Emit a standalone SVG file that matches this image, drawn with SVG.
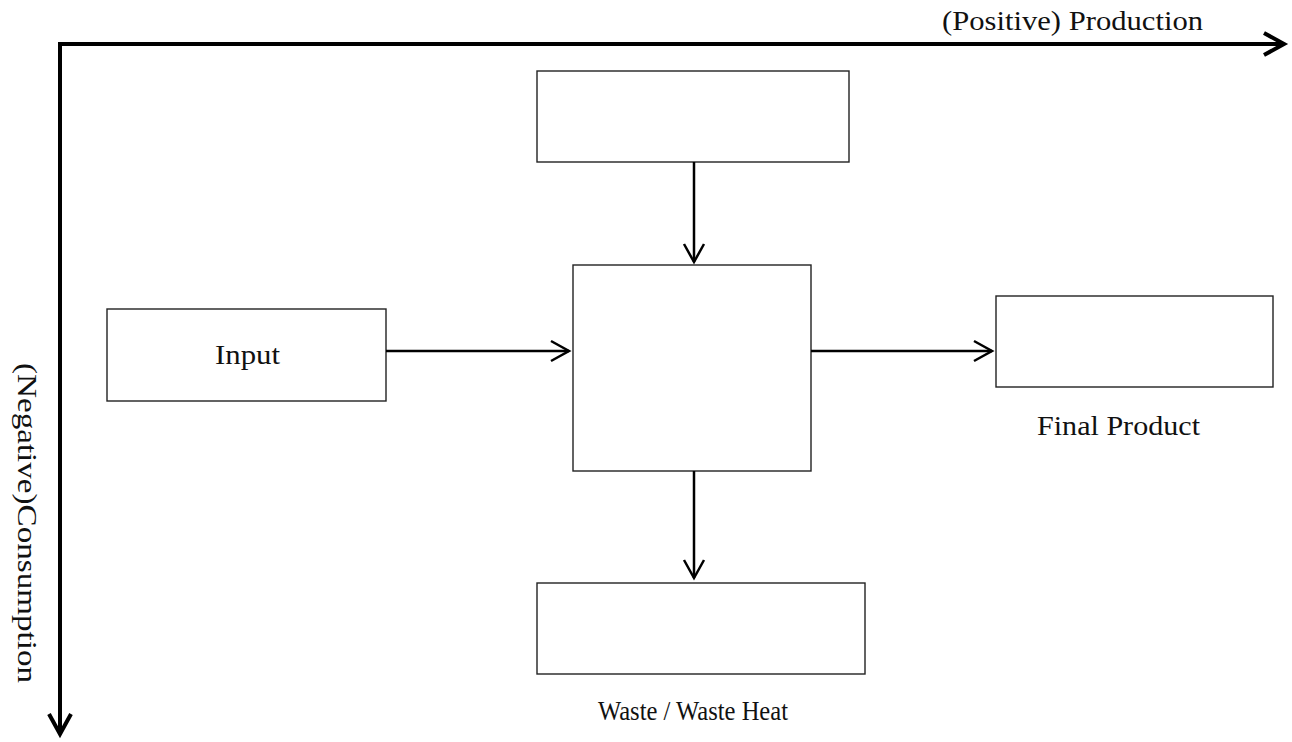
<svg xmlns="http://www.w3.org/2000/svg" width="1292" height="742" viewBox="0 0 1292 742">
<style>
.box{fill:#fff;stroke:#222;stroke-width:1.4}
.conn{fill:none;stroke:#000;stroke-width:2.5}
.axis{fill:none;stroke:#000;stroke-width:4}
.lbl{font-family:"Liberation Serif","DejaVu Serif",serif;font-size:28px;fill:#111}
</style>
<defs>
<marker id="chev" markerUnits="userSpaceOnUse" viewBox="-20 -12 22 24" refX="0" refY="0" markerWidth="22" markerHeight="24" orient="auto" overflow="visible">
<path d="M-18,-10 L0,0 L-18,10" fill="none" stroke="#000" stroke-width="2.5"/>
</marker>
<marker id="chevBig" markerUnits="userSpaceOnUse" viewBox="-24 -14 26 28" refX="0" refY="0" markerWidth="26" markerHeight="28" orient="auto" overflow="visible">
<path d="M-20,-11 L0,0 L-20,11" fill="none" stroke="#000" stroke-width="4"/>
</marker>
</defs>
<rect width="1292" height="742" fill="#fff"/>
<g id="axes">
<path class="axis" d="M60,44 L1284,44" marker-end="url(#chevBig)"/>
<path class="axis" d="M60,42 L60,734" marker-end="url(#chevBig)"/>
<text class="lbl" x="942" y="30" textLength="261" lengthAdjust="spacingAndGlyphs">(Positive) Production</text>
<text class="lbl" transform="translate(18,363) rotate(90)" x="0" y="0" textLength="320" lengthAdjust="spacingAndGlyphs">(Negative)Consumption</text>
</g>
<g id="node-top"><rect class="box" x="537" y="71" width="312" height="91"/></g>
<g id="node-center"><rect class="box" x="573" y="265" width="238" height="206"/></g>
<g id="node-input"><rect class="box" x="107" y="309" width="279" height="92"/>
<text class="lbl" x="215" y="364" textLength="65" lengthAdjust="spacingAndGlyphs">Input</text></g>
<g id="node-final"><rect class="box" x="996" y="296" width="277" height="91"/>
<text class="lbl" x="1037" y="435" textLength="163" lengthAdjust="spacingAndGlyphs">Final Product</text></g>
<g id="node-waste"><rect class="box" x="537" y="583" width="328" height="91"/>
<text class="lbl" x="598" y="720" textLength="190" lengthAdjust="spacingAndGlyphs" style="font-size:27px">Waste / Waste Heat</text></g>
<g id="connectors">
<path class="conn" d="M694,162 L694,262" marker-end="url(#chev)"/>
<path class="conn" d="M386,351 L569,351" marker-end="url(#chev)"/>
<path class="conn" d="M811,351 L992,351" marker-end="url(#chev)"/>
<path class="conn" d="M694,471 L694,578" marker-end="url(#chev)"/>
</g>
</svg>
